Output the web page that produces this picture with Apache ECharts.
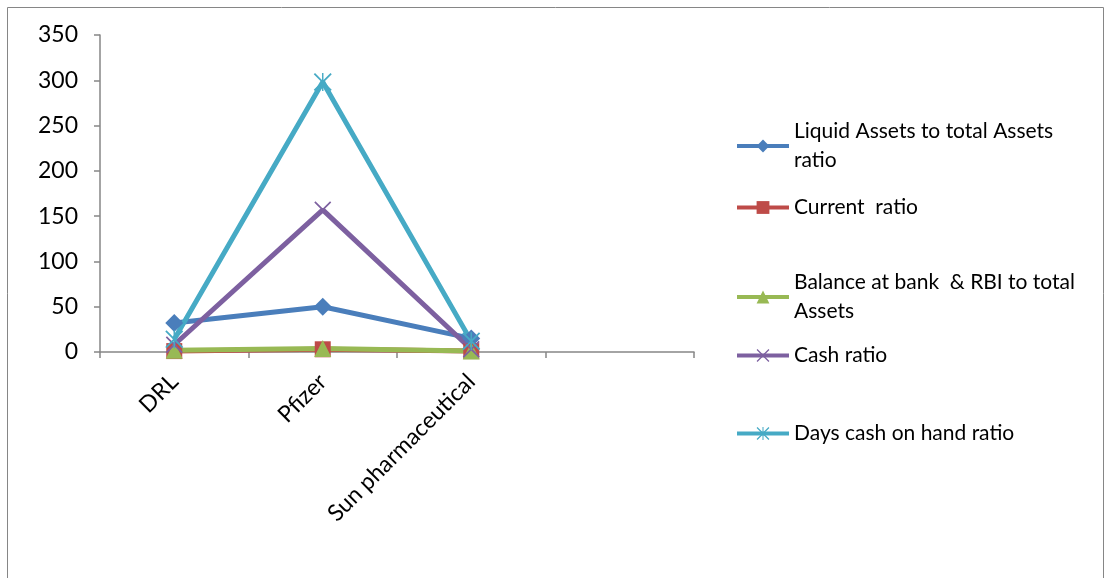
<!DOCTYPE html>
<html>
<head>
<meta charset="utf-8">
<script src="https://cdn.jsdelivr.net/npm/echarts@6/dist/echarts.min.js"></script>
<style>
  html, body { margin: 0; padding: 0; background: #fff; }
  #chart { width: 1110px; height: 578px; }
</style>
</head>
<body>
<div id="chart"></div>
<script>
// categories (4th slot is empty in the original)
const companies = ['DRL', 'Pfizer', 'Sun pharmaceutical', ''];
const yTicks = [0, 350, 50]; // min, max, step

const liquidAssets = [32, 50, 15];
const currentRatio = [1, 3, 1];
const bankBalance = [2, 4, 1];
const cashRatio = [8, 157, 3];
const daysCash = [14, 298, 12];

const seriesNames = [
  'Liquid Assets to total Assets\nratio',
  'Current  ratio',
  'Balance at bank  & RBI to total\nAssets',
  'Cash ratio',
  'Days cash on hand ratio'
];

const xMark = 'path://M0,1.4L1.4,0L10,8.6L18.6,0L20,1.4L11.4,10L20,18.6L18.6,20L10,11.4L1.4,20L0,18.6L8.6,10Z';
const starMark = 'path://M0,1.4L1.4,0L10,8.6L18.6,0L20,1.4L11.4,10L20,18.6L18.6,20L10,11.4L1.4,20L0,18.6L8.6,10Z' +
  'M9.2,0L10.8,0L10.8,20L9.2,20Z';

const FONT = 'Lato';

function line(name, data, color, symbol, size) {
  return {
    name,
    type: 'line',
    data,
    symbol,
    symbolSize: size,
    lineStyle: { width: 5, color },
    itemStyle: { color },
    emphasis: { disabled: true }
  };
}

const legendTops = [116, 192, 267, 340, 418];

const chart = echarts.init(document.getElementById('chart'));
chart.setOption({
  animation: false,
  backgroundColor: '#fff',
  textStyle: { fontFamily: FONT, color: '#000' },
  graphic: [{
    type: 'rect',
    shape: { x: 7.5, y: 7.5, width: 1096, height: 620 },
    style: { fill: 'none', stroke: '#868686', lineWidth: 1 }
  }],
  grid: { left: 100, top: 35, right: 416, bottom: 226 },
  legend: seriesNames.map((n, i) => ({
    data: [n],
    left: 730,
    top: legendTops[i],
    orient: 'vertical',
    itemWidth: 52,
    itemHeight: 16,
    itemGap: 8,
    selectedMode: false,
    lineStyle: { width: 4 },
    textStyle: {
      fontFamily: FONT, fontSize: 21, color: '#000', lineHeight: 29,
      verticalAlign: 'top', padding: [-14.5, 0, 0, 0]
    }
  })),
  xAxis: {
    type: 'category',
    data: companies,
    boundaryGap: true,
    axisLine: { lineStyle: { color: '#868686', width: 1.5 } },
    axisTick: { show: true, interval: 0, length: 6, lineStyle: { color: '#868686', width: 1.5 } },
    axisLabel: { interval: 0, rotate: 45, margin: 26, fontFamily: FONT, fontSize: 23, color: '#000' }
  },
  yAxis: {
    type: 'value',
    min: yTicks[0],
    max: yTicks[1],
    interval: yTicks[2],
    splitLine: { show: false },
    axisLine: { show: true, lineStyle: { color: '#868686', width: 1.5 } },
    axisTick: { show: true, length: 6, lineStyle: { color: '#868686', width: 1.5 } },
    axisLabel: { margin: 22, fontFamily: FONT, fontSize: 23, color: '#000' }
  },
  series: [
    line(seriesNames[0], liquidAssets, '#4A7EBB', 'diamond', 18),
    line(seriesNames[1], currentRatio, '#BE4B48', 'rect', 16),
    line(seriesNames[2], bankBalance, '#98B954', 'triangle', 17),
    line(seriesNames[3], cashRatio, '#7D60A0', xMark, 17),
    line(seriesNames[4], daysCash, '#46AAC5', starMark, 18)
  ]
});
</script>
</body>
</html>
